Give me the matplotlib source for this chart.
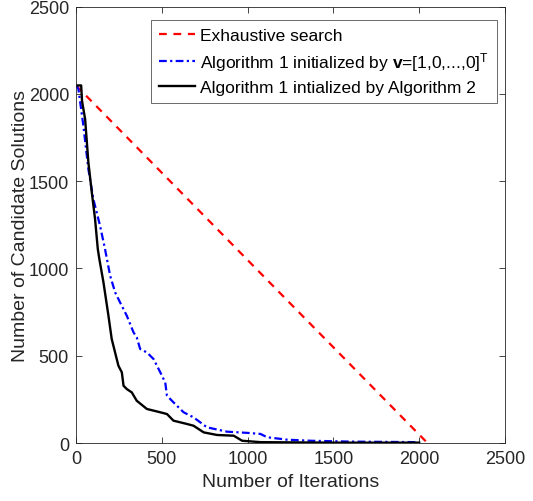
import matplotlib
matplotlib.use("Agg")
import matplotlib.pyplot as plt

plt.rcParams['font.family'] = ['Liberation Sans', 'DejaVu Sans']
plt.rcParams['mathtext.fontset'] = 'custom'
plt.rcParams['mathtext.rm'] = 'Liberation Sans'
plt.rcParams['mathtext.bf'] = 'Liberation Sans:bold'
plt.rcParams['mathtext.it'] = 'Liberation Sans:italic'

exh_x = [0, 2048]
exh_y = [2048, 0]

alg_v_x = [0, 14, 43, 72, 101, 140, 169, 199, 228, 257, 296, 335, 354, 374, 413, 452, 491,
           520, 530, 568, 627, 685, 763, 880, 1000, 1075, 1114, 1231, 1367, 1600, 2000]
alg_v_y = [2048, 2027, 1817, 1569, 1397, 1245, 1111, 958, 863, 805, 729, 634, 605, 538, 519,
           481, 405, 347, 271, 233, 176, 147, 90, 65, 58, 52, 33, 19, 13, 8, 5]

alg_2_x = [0, 30, 35, 43, 53, 72, 92, 111, 127, 136, 160, 189, 208, 247, 267, 277, 296, 325,
           354, 413, 491, 530, 568, 647, 685, 744, 822, 919, 968, 1075, 1500, 2000]
alg_2_y = [2048, 2048, 1960, 1913, 1856, 1608, 1436, 1283, 1111, 1054, 920, 729, 596, 443,
           405, 328, 309, 290, 242, 195, 176, 166, 128, 109, 99, 61, 46, 42, 13, 5, 2, 2]

xticks = [0, 500, 1000, 1500, 2000, 2500]
yticks = [0, 500, 1000, 1500, 2000, 2500]

fig = plt.figure(figsize=(5.33, 5.02), dpi=100)
ax = fig.add_axes([0.1426, 0.1155, 0.8049, 0.8695])

ax.plot(exh_x, exh_y, color='#ff0000', linestyle=(0, (3.5, 3)), linewidth=1.6,
        label='Exhaustive search')
ax.plot(alg_v_x, alg_v_y, color='#0000ff', linestyle=(0, (3.5, 1.5, 1, 1.5)), linewidth=1.6,
        label=r'Algorithm 1 initialized by $\mathbf{v}$=[1,0,...,0]$^{\mathrm{T}}$')
ax.plot(alg_2_x, alg_2_y, color='black', linewidth=1.7,
        label='Algorithm 1 intialized by Algorithm 2')

ax.set_xlim(0, 2500)
ax.set_ylim(0, 2500)
ax.set_xticks(xticks)
ax.set_yticks(yticks)
ax.tick_params(direction='in', top=True, right=True, length=4, labelsize=13,
               colors='#262626', width=0.6, pad=5)
for s in ax.spines.values():
    s.set_color('#262626')
    s.set_linewidth(0.6)
ax.set_xlabel('Number of Iterations', fontsize=14, color='#262626', labelpad=4)
ax.set_ylabel('Number of Candidate Solutions', fontsize=14, color='#262626', labelpad=0)

leg = ax.legend(loc='upper right', bbox_to_anchor=(0.981, 0.969), fontsize=12.5,
                frameon=True, fancybox=False,
                edgecolor='#262626', handlelength=2.1, borderaxespad=0.0,
                labelspacing=0.4, handletextpad=0.3, borderpad=0.45)
leg.get_frame().set_linewidth(0.6)

fig.savefig('out.png', dpi=100)
